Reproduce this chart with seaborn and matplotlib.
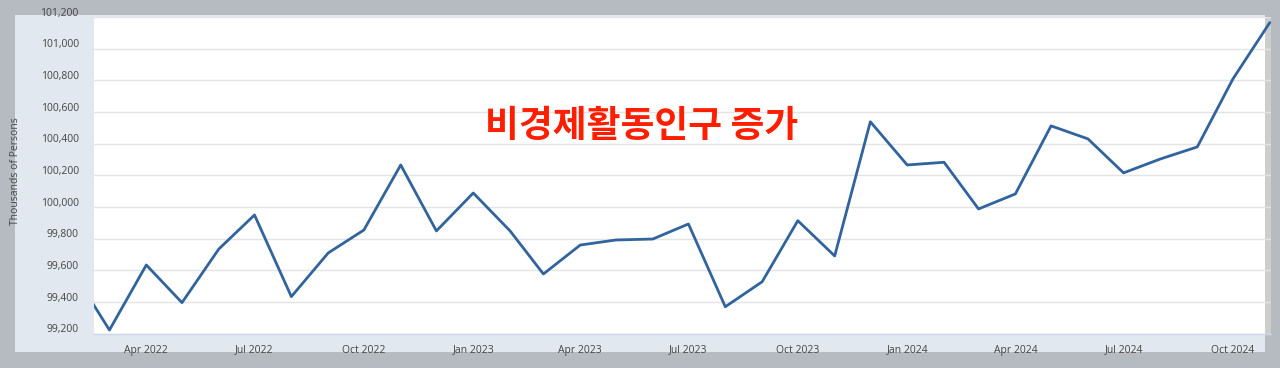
import matplotlib
matplotlib.use("Agg")
import matplotlib.pyplot as plt
import matplotlib.dates as mdates
import matplotlib.transforms as mtransforms
from matplotlib.patches import Rectangle
from matplotlib.ticker import FuncFormatter, FixedLocator
import numpy as np
import pandas as pd
import seaborn as sns

# ---- data (thousands of persons) ----
months = pd.date_range("2022-02-01", "2024-11-01", freq="MS")
values = [
    99557, 99222, 99633, 99395, 99734, 99949, 99433, 99709, 99854, 100265, 99848,   # 2022 Feb-Dec
    100088, 99848, 99576, 99759, 99791, 99797, 99892, 99369, 99527, 99913, 99690, 100538,  # 2023
    100265, 100282, 99987, 100082, 100512, 100430, 100215, 100303, 100379, 100809, 101165,  # 2024 Jan-Nov
]
y_ticks = [99200, 99400, 99600, 99800, 100000, 100200, 100400, 100600, 100800, 101000, 101200]
x_ticks = pd.to_datetime(["2022-04-01", "2022-07-01", "2022-10-01", "2023-01-01", "2023-04-01",
                          "2023-07-01", "2023-10-01", "2024-01-01", "2024-04-01", "2024-07-01",
                          "2024-10-01"])
x_tick_labels = [d.strftime("%b %Y") for d in x_ticks]
y_label = "Thousands of Persons"
annotation = "비경제활동인구 증가"

df = pd.DataFrame({"date": months, "value": values})

sns.set_style("white")
plt.rcParams["font.family"] = ["Open Sans", "DejaVu Sans"]

W, H = 1280, 368
fig = plt.figure(figsize=(W / 100, H / 100), dpi=100)
fig.patch.set_facecolor("#b6bac1")

# panel background
fig.patches.append(Rectangle((15 / W, 1 - 352 / H), 1250 / W, (352 - 15) / H,
                             transform=fig.transFigure, facecolor="#e1e8ef",
                             edgecolor="none", zorder=-10))

ax = fig.add_axes([94 / W, 1 - 333.5 / H, (1271 - 94) / W, (333.5 - 17) / H])
ax.set_facecolor("white")
ax.set_zorder(1)

xmin = pd.Timestamp("2022-02-16")
xmax = pd.Timestamp("2024-11-02")

# right grey strip
ax.axvspan(pd.Timestamp("2024-10-28"), xmax, color="#cdcdcd", lw=0, zorder=0.5)

sns.lineplot(data=df, x="date", y="value", ax=ax, color="#31639d", linewidth=2.0,
             zorder=3, clip_on=True)

ax.set_xlim(xmin, xmax)
ax.set_ylim(y_ticks[0], y_ticks[-1])

ax.yaxis.set_major_locator(FixedLocator(y_ticks))
ax.yaxis.set_major_formatter(FuncFormatter(lambda v, p: f"{int(v):,}"))
ax.set_xticks(x_ticks)
ax.set_xticklabels(x_tick_labels)

ax.grid(axis="y", color="#e4e4e4", linewidth=1.0)
ax.grid(axis="x", visible=False)
ax.set_axisbelow(True)

for s in ["top", "right", "left"]:
    ax.spines[s].set_visible(False)
ax.spines["bottom"].set_color("#ccd6eb")
ax.spines["bottom"].set_linewidth(1.0)

ax.tick_params(axis="y", length=0, pad=11, labelsize=7.5, labelcolor="#444444")
ax.tick_params(axis="x", length=7.5, width=0.8, color="#ccd6eb", pad=0.5,
               labelsize=7.5, labelcolor="#444444", direction="out")

offset = mtransforms.ScaledTranslation(0, 3.8 / 72, fig.dpi_scale_trans)
for lab in ax.get_yticklabels():
    lab.set_transform(lab.get_transform() + offset)

ax.set_xlabel("")
ax.set_ylabel("")
fig.text(16 / W, 1 - 171 / H, y_label, rotation=90, ha="center", va="center",
         fontsize=7.5, color="#444444", zorder=5)

fig.text(641.5 / W, 1 - 127 / H, annotation, ha="center", va="center",
         fontsize=26.5, fontweight="bold", color="#ff1e00",
         family=["Noto Sans CJK KR", "DejaVu Sans"], zorder=5)

fig.savefig("out.png", dpi=100, facecolor=fig.get_facecolor())
